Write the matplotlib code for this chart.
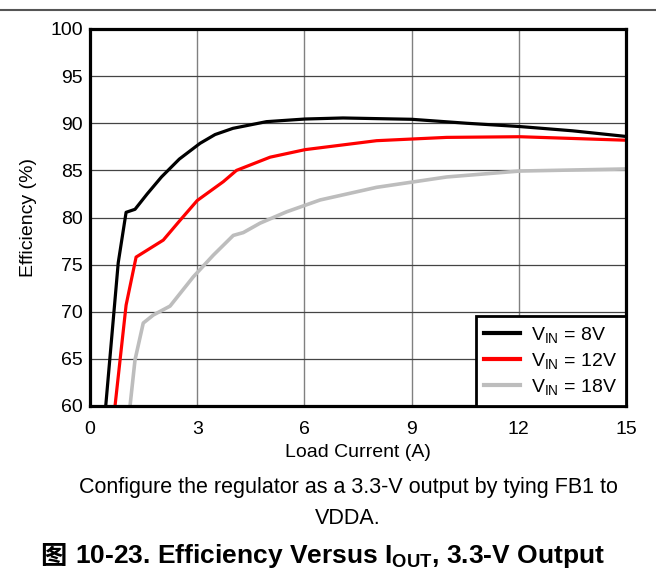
import matplotlib
matplotlib.use('Agg')
import matplotlib.pyplot as plt
from matplotlib.lines import Line2D

plt.rcParams['font.family'] = ['Liberation Sans', 'Noto Sans CJK SC', 'DejaVu Sans']
plt.rcParams['mathtext.fontset'] = 'custom'
plt.rcParams['mathtext.rm'] = 'Liberation Sans'
plt.rcParams['mathtext.it'] = 'Liberation Sans'
plt.rcParams['mathtext.bf'] = 'Liberation Sans:bold'

# data
amps_8v = [0.44, 0.79, 1.01, 1.26, 1.6, 2.0, 2.5, 3.08, 3.5, 4.0, 4.94, 6.02, 7.08, 9.0, 10.54, 12.03, 13.5, 15.0]
eff_8v = [60, 75.2, 80.55, 80.87, 82.5, 84.3, 86.2, 87.87, 88.8, 89.46, 90.17, 90.45, 90.56, 90.42, 90.0, 89.65, 89.2, 88.6]

amps_12v = [0.70, 1.01, 1.29, 2.05, 2.52, 3.0, 3.73, 4.1, 5.04, 6.02, 8.02, 9.98, 12.03, 15.0]
eff_12v = [60, 70.7, 75.8, 77.6, 79.7, 81.8, 83.8, 85.0, 86.4, 87.2, 88.15, 88.5, 88.57, 88.2]

amps_18v = [1.12, 1.26, 1.49, 1.77, 2.24, 2.89, 3.45, 4.01, 4.29, 4.76, 5.5, 6.44, 8.02, 9.98, 12.03, 15.0]
eff_18v = [60, 64.9, 68.8, 69.65, 70.6, 73.7, 76.0, 78.1, 78.4, 79.4, 80.6, 81.86, 83.2, 84.3, 84.93, 85.15]

labels = ['V$_{\\mathrm{IN}}$ = 8V', 'V$_{\\mathrm{IN}}$ = 12V', 'V$_{\\mathrm{IN}}$ = 18V']
colors = ['black', '#ff0000', '#bdbdbd']

fig = plt.figure(figsize=(6.56, 5.81), dpi=100)
ax = fig.add_axes([90/656, 1 - 406/581, 536/656, 377/581])

ax.plot(amps_8v, eff_8v, color=colors[0], lw=2.3, label=labels[0])
ax.plot(amps_12v, eff_12v, color=colors[1], lw=2.3, label=labels[1])
ax.plot(amps_18v, eff_18v, color=colors[2], lw=2.6, label=labels[2])

ax.set_xlim(0, 15)
ax.set_ylim(60, 100)
ax.set_xticks(range(0, 16, 3))
ax.set_yticks(range(60, 101, 5))
ax.tick_params(length=0, labelsize=14)
ax.tick_params(axis='x', pad=11)
ax.tick_params(axis='y', pad=5)
ax.yaxis.grid(True, color='#444444', lw=0.9)
ax.xaxis.grid(True, color='#808080', lw=1.0)
ax.set_axisbelow(True)
for s in ax.spines.values():
    s.set_linewidth(2.3)
    s.set_zorder(5)

ax.set_xlabel('Load Current (A)', fontsize=14, labelpad=4)
ax.set_ylabel('Efficiency (%)', fontsize=14, labelpad=10)

leg = ax.legend(loc='lower right', fontsize=14, fancybox=False, framealpha=1,
                edgecolor='black', borderaxespad=0, handlelength=1.85,
                handletextpad=0.55, labelspacing=0.32, borderpad=0.45)
leg.get_frame().set_linewidth(2)
for h in leg.get_lines():
    h.set_linewidth(3)

# top rule
fig.add_artist(Line2D([0, 1], [1 - 10/581, 1 - 10/581], color='#555555', lw=1.5))

fig.text(348/656, 1 - 488/581, 'Configure the regulator as a 3.3-V output by tying FB1 to',
         ha='center', va='center', fontsize=15.5)
fig.text(348/656, 1 - 518/581, 'VDDA.', ha='center', va='center', fontsize=15.5)

fig.text(40/656, 1 - 556/581, '图', ha='left', va='center', fontsize=19,
         fontweight='bold', family=['Noto Sans CJK SC'])
fig.text(75/656, 1 - 556/581, '10-23. Efficiency Versus I$_{\\mathbf{OUT}}$, 3.3-V Output',
         ha='left', va='center', fontsize=19, fontweight='bold')

fig.savefig('out.png', dpi=100)
